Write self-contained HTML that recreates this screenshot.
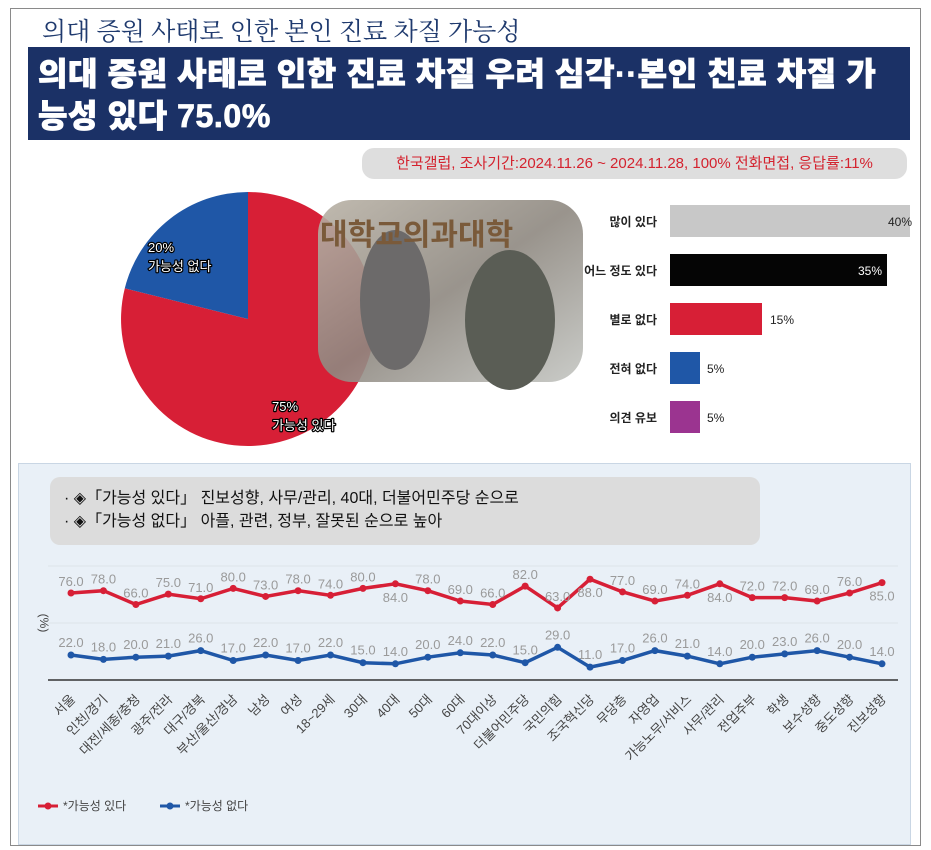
<!DOCTYPE html>
<html><head><meta charset="utf-8">
<style>
html,body{margin:0;padding:0;background:#fff;}
body{width:931px;height:850px;position:relative;overflow:hidden;font-family:"Liberation Sans","Noto Sans CJK KR",sans-serif;}
.abs{position:absolute;}
</style></head><body>
<div class="abs" style="left:10px;top:8px;width:909px;height:836px;border:1px solid #8a8a8a;"></div>
<div class="abs" style="left:42px;top:12px;font-family:'Liberation Serif','Noto Serif CJK SC',serif;font-size:25px;color:#1f3a6e;">의대 증원 사태로 인한 본인 진료 차질 가능성</div>
<div class="abs" style="left:28px;top:47px;width:882px;height:93px;background:#1b3166;"></div>
<div class="abs" style="left:38px;top:53px;width:860px;color:#fff;font-weight:900;font-size:32px;line-height:42px;letter-spacing:0.6px;word-break:break-all;-webkit-text-stroke:0.8px #fff;">의대 증원 사태로 인한 진료 차질 우려 심각··본인 친료 차질 가능성 있다 75.0%</div>
<div class="abs" style="left:362px;top:148px;width:545px;height:31px;border-radius:12px;background:#dedede;color:#d4232f;font-size:15px;line-height:31px;text-align:center;">한국갤럽, 조사기간:2024.11.26 ~ 2024.11.28, 100% 전화면접, 응답률:11%</div>
<svg class="abs" style="left:0;top:0" width="931" height="460">
<path d="M248,319 L248,192 A127,127 0 1,1 124.8,288.3 Z" fill="#d71f36"/>
<path d="M248,319 L124.8,288.3 A127,127 0 0,1 248,192 Z" fill="#1f57a7"/>
<defs><linearGradient id="ph" x1="0" y1="0" x2="1" y2="1"><stop offset="0" stop-color="#b9b2a6"/><stop offset="0.5" stop-color="#8e8880"/><stop offset="1" stop-color="#c4c6c2"/></linearGradient></defs>
<rect x="318" y="200" width="265" height="182" rx="34" fill="url(#ph)" opacity="0.9"/>
<ellipse cx="395" cy="300" rx="35" ry="70" fill="#6c6a6a"/>
<ellipse cx="510" cy="320" rx="45" ry="70" fill="#5a5d55"/>
<text x="320" y="245" font-size="30" font-weight="bold" fill="#7a5a3a">대학교의과대학</text>
<g font-size="13" fill="#fff" stroke="#000" stroke-width="2.5" paint-order="stroke" stroke-linejoin="round">
<text x="148" y="252">20%</text><text x="148" y="271">가능성 없다</text>
<text x="272" y="411">75%</text><text x="272" y="430">가능성 있다</text></g>
<g font-size="12" font-weight="bold" fill="#222" text-anchor="end">
<text x="657" y="226">많이 있다</text><text x="657" y="275">어느 정도 있다</text><text x="657" y="324">별로 없다</text><text x="657" y="373">전혀 없다</text><text x="657" y="422">의견 유보</text></g>
<rect x="670" y="205" width="240" height="32" fill="#c8c8c8"/>
<rect x="670" y="254" width="217" height="32" fill="#050505"/>
<rect x="670" y="303" width="92" height="32" fill="#d71f36"/>
<rect x="670" y="352" width="30" height="32" fill="#1f57a7"/>
<rect x="670" y="401" width="30" height="32" fill="#9b3490"/>
<g font-size="12" fill="#222"><text x="888" y="226">40%</text><text x="858" y="275" fill="#fff">35%</text><text x="770" y="324">15%</text><text x="707" y="373">5%</text><text x="707" y="422">5%</text></g>
</svg>
<div class="abs" style="left:18px;top:463px;width:891px;height:380px;background:#e9f0f7;border:1px solid #c9d6e4;"></div>
<div class="abs" style="left:50px;top:477px;width:710px;height:68px;border-radius:10px;background:#dcdcdc;font-size:16px;line-height:23px;color:#111;padding:10px 0 0 14px;box-sizing:border-box;">· ◈「가능성 있다」 진보성향, 사무/관리, 40대, 더불어민주당 순으로<br>· ◈「가능성 없다」 아플, 관련, 정부, 잘못된 순으로 높아</div>
<svg id="lc" class="abs" style="left:0;top:0" width="931" height="850"></svg>
<script>
var cats=["서울","인천/경기","대전/세종/충청","광주/전라","대구/경북","부산/울산/경남","남성","여성","18~29세","30대","40대","50대","60대","70대이상","더불어민주당","국민의힘","조국혁신당","무당층","자영업","가능노무/서비스","사무/관리","전업주부","학생","보수성향","중도성향","진보성향"];
var r=[76,78,66,75,71,80,73,78,74,80,84,78,69,66,82,63,88,77,69,74,84,72,72,69,76,85];
var b=[22,18,20,21,26,17,22,17,22,15,14,20,24,22,15,29,11,17,26,21,14,20,23,26,20,14];
var s='<line x1="48" y1="566" x2="898" y2="566" stroke="#dde3ea"/><line x1="48" y1="623" x2="898" y2="623" stroke="#dde3ea"/><line x1="48" y1="680" x2="898" y2="680" stroke="#333" stroke-width="1.5"/>';
s+='<text x="40" y="623" font-size="12" fill="#444" transform="rotate(90 40 623)" text-anchor="middle">(%)</text>';
function X(i){return 71+32.44*i;}
var pr=[],pb=[],lab='',dots='',xl='';
for(var i=0;i<26;i++){var x=X(i),yr=593-(r[i]-76)*1.15,yb=655-(b[i]-22)*1.1;
pr.push(x+','+yr);pb.push(x+','+yb);
dots+='<circle cx="'+x+'" cy="'+yr+'" r="3.5" fill="#d71f36"/><circle cx="'+x+'" cy="'+yb+'" r="3.5" fill="#1f57a7"/>';
var below=(r[i]==84||r[i]==85||r[i]==88);
lab+='<text x="'+x+'" y="'+(below?yr+18:yr-7)+'">'+r[i].toFixed(1)+'</text>';
lab+='<text x="'+x+'" y="'+(yb-8)+'">'+b[i].toFixed(1)+'</text>';
xl+='<text x="'+(x+5)+'" y="700" transform="rotate(-45 '+(x+5)+' 700)" text-anchor="end">'+cats[i]+'</text>';}
s+='<polyline points="'+pr.join(' ')+'" fill="none" stroke="#d71f36" stroke-width="3.5"/>';
s+='<polyline points="'+pb.join(' ')+'" fill="none" stroke="#1f57a7" stroke-width="3.5"/>';
s+=dots+'<g font-size="13" fill="#9a9a9a" text-anchor="middle">'+lab+'</g>';
s+='<g font-size="13" fill="#444">'+xl+'</g>';
s+='<line x1="38" y1="806" x2="58" y2="806" stroke="#d71f36" stroke-width="3"/><circle cx="48" cy="806" r="3.5" fill="#d71f36"/><text x="63" y="810" font-size="12" fill="#444">*가능성 있다</text>';
s+='<line x1="160" y1="806" x2="180" y2="806" stroke="#1f57a7" stroke-width="3"/><circle cx="170" cy="806" r="3.5" fill="#1f57a7"/><text x="185" y="810" font-size="12" fill="#444">*가능성 없다</text>';
document.getElementById('lc').innerHTML=s;
</script>
</body></html>
